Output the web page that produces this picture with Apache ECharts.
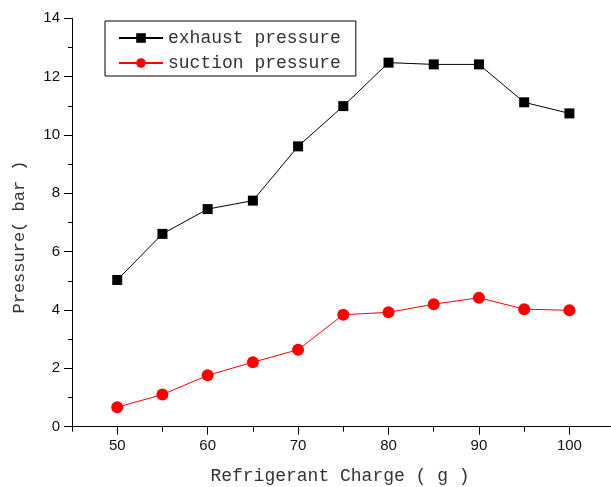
<!DOCTYPE html>
<html>
<head>
<meta charset="utf-8">
<script src="https://cdn.jsdelivr.net/npm/echarts@6/dist/echarts.min.js"></script>
<style>html,body{margin:0;padding:0;background:#fff}#c{width:611px;height:487px}</style>
</head>
<body>
<div id="c"></div>
<script>
var charge = [50, 55, 60, 65, 70, 75, 80, 85, 90, 95, 100];
var exhaust = [5.03, 6.61, 7.46, 7.75, 9.61, 10.99, 12.48, 12.42, 12.42, 11.12, 10.74];
var suction = [0.67, 1.10, 1.76, 2.21, 2.64, 3.84, 3.92, 4.20, 4.42, 4.03, 3.99];
var xMajorTicks = [50, 60, 70, 80, 90, 100];
var xMinorTicks = [45, 55, 65, 75, 85, 95];
var seriesNames = ['exhaust pressure', 'suction pressure'];
var xTitle = 'Refrigerant Charge ( g )';
var yTitle = 'Pressure( bar )';

function pairs(xs, ys) { return xs.map(function (x, i) { return [x, ys[i]]; }); }

var chart = echarts.init(document.getElementById('c'), null, { renderer: 'canvas' });
var axisColor = '#000';
var monoFont = '"Liberation Mono", "DejaVu Sans Mono", monospace';
var labelFont = { fontFamily: '"Liberation Sans", Arial, sans-serif', fontSize: 15, color: '#111' };
chart.setOption({
  animation: false,
  backgroundColor: '#fff',
  grid: { left: 72, right: 0, top: 18.3, bottom: 60.3, containLabel: false },
  legend: {
    orient: 'vertical', left: 105, top: 21,
    padding: [8, 15, 4, 13], itemGap: 7, itemWidth: 44, itemHeight: 12,
    borderColor: '#000', borderWidth: 1, borderRadius: 0,
    textStyle: { fontFamily: monoFont, fontSize: 18, color: '#333' },
    data: seriesNames
  },
  xAxis: [{
    type: 'value', min: 45, max: 104.6, interval: 5,
    axisLine: { show: true, onZero: false, lineStyle: { color: axisColor, width: 1 } },
    axisTick: { show: true, length: 8, inside: false, customValues: xMajorTicks, lineStyle: { color: axisColor } },
    axisLabel: Object.assign({ margin: 12, customValues: xMajorTicks }, labelFont),
    splitLine: { show: false }
  }, {
    type: 'value', min: 45, max: 104.6, interval: 5, position: 'bottom',
    axisLine: { show: false },
    axisTick: { show: true, length: 5, customValues: xMinorTicks, lineStyle: { color: axisColor } },
    axisLabel: { show: false },
    splitLine: { show: false }
  }],
  yAxis: {
    type: 'value', min: 0, max: 14, interval: 2,
    axisLine: { show: true, lineStyle: { color: axisColor, width: 1 } },
    axisTick: { show: true, length: 8, lineStyle: { color: axisColor } },
    minorTick: { show: true, splitNumber: 2, length: 4, lineStyle: { color: axisColor } },
    axisLabel: Object.assign({ margin: 12 }, labelFont),
    splitLine: { show: false }
  },
  graphic: [
    { type: 'text', x: 340, y: 467, style: { text: xTitle, align: 'center', verticalAlign: 'top', fontFamily: monoFont, fontSize: 18, fill: '#333' } },
    { type: 'text', x: 11, y: 237, rotation: Math.PI / 2, style: { text: yTitle, align: 'center', verticalAlign: 'top', fontFamily: monoFont, fontSize: 17, fill: '#333' } }
  ],
  series: [{
    name: seriesNames[0], type: 'line', xAxisIndex: 0,
    data: pairs(charge, exhaust),
    symbol: 'rect', symbolSize: 10,
    lineStyle: { color: '#000', width: 1 },
    itemStyle: { color: '#000' }
  }, {
    name: seriesNames[1], type: 'line', xAxisIndex: 0,
    data: pairs(charge, suction),
    symbol: 'circle', symbolSize: 12,
    lineStyle: { color: '#ff0000', width: 1 },
    itemStyle: { color: '#ff0000' }
  }]
});
</script>
</body>
</html>
